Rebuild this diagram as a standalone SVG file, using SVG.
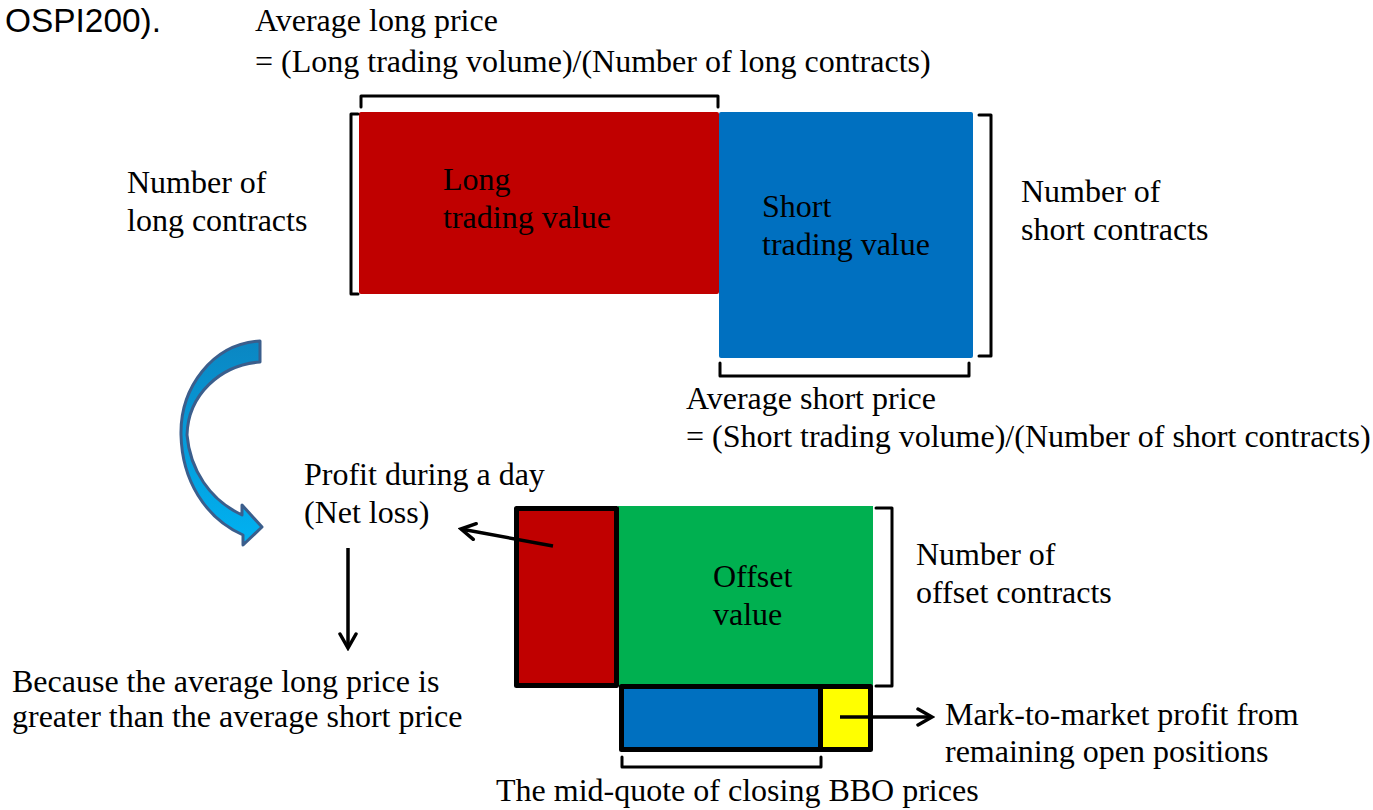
<svg xmlns="http://www.w3.org/2000/svg" width="1373" height="810" viewBox="0 0 1373 810">
<style>
  text { font-family: "Liberation Serif", "Times New Roman", serif; font-size: 32px; fill: #000; }
  .br { fill: none; stroke: #000; stroke-width: 3; stroke-linejoin: round; stroke-linecap: round; }
  .box { stroke: #000; stroke-width: 5; stroke-linejoin: round; }
  .ln { fill: none; stroke: #000; stroke-width: 3.5; }
</style>
<defs>
  <marker id="ah" viewBox="0 0 20 20" refX="17" refY="10" markerWidth="20" markerHeight="20" markerUnits="userSpaceOnUse" orient="auto">
    <path d="M3 2 L17 10 L3 18" fill="none" stroke="#000" stroke-width="3.5" stroke-linecap="round" stroke-linejoin="miter"/>
  </marker>
  <linearGradient id="cg" x1="0" y1="0" x2="0" y2="1">
    <stop offset="0" stop-color="#0b86c2"/>
    <stop offset="1" stop-color="#00b2f2"/>
  </linearGradient>
</defs>
<rect width="1373" height="810" fill="#fff"/>

<text x="161" y="32" text-anchor="end" style="font-family:'Liberation Sans','Open Sans',sans-serif;font-size:33px" textLength="156" lengthAdjust="spacingAndGlyphs">OSPI200).</text>

<g id="top-labels">
  <text x="255" y="31">Average long price</text>
  <text x="255" y="72">= (Long trading volume)/(Number of long contracts)</text>
  <text x="127" y="193">Number of</text>
  <text x="127" y="231">long contracts</text>
  <text x="1021" y="202">Number of</text>
  <text x="1021" y="240">short contracts</text>
  <text x="686" y="409">Average short price</text>
  <text x="686" y="447">= (Short trading volume)/(Number of short contracts)</text>
</g>

<g id="long-value">
  <rect x="359" y="112" width="360" height="182" rx="2" fill="#c00000"/>
  <text x="443" y="190">Long</text>
  <text x="443" y="228">trading value</text>
</g>
<g id="short-value">
  <rect x="719" y="112" width="254" height="246" rx="2" fill="#0070c0"/>
  <text x="762" y="217">Short</text>
  <text x="762" y="255">trading value</text>
</g>

<g id="brackets">
  <path class="br" d="M361 107 V96 H718 V107"/>
  <path class="br" d="M358 114 H351 V294 H358"/>
  <path class="br" d="M979 115 H991 V356 H979"/>
  <path class="br" d="M720 363 V376 H969 V363"/>
  <path class="br" d="M876 508 H892 V686 H876"/>
  <path class="br" d="M622 757 V767 H821 V757"/>
</g>

<g id="curved-arrow">
  <path d="M260 341 C212 344 180 388 181 435 C182 480 205 518 243 535 L243 545 L262 527 L242 505 L242 515 C210 500 190 470 187 435 C188 395 220 365 260 362 Z" fill="url(#cg)" stroke="#3b5e8c" stroke-width="3" stroke-linejoin="round"/>
</g>

<g id="profit">
  <text x="304" y="485">Profit during a day</text>
  <text x="304" y="523">(Net loss)</text>
</g>

<g id="conclusion">
  <text x="12" y="692">Because the average long price is</text>
  <text x="12" y="727">greater than the average short price</text>
</g>

<g id="offset-value">
  <rect x="618" y="506" width="255" height="180" fill="#00b050"/>
  <text x="713" y="587">Offset</text>
  <text x="713" y="625">value</text>
</g>
<g id="net-loss-box">
  <rect class="box" x="516.5" y="508.5" width="100" height="177" fill="#c00000"/>
</g>
<g id="bbo-box">
  <rect class="box" x="621.5" y="686.5" width="199" height="63" fill="#0070c0"/>
</g>
<g id="mtm-box">
  <rect class="box" x="820.5" y="686.5" width="50" height="63" fill="#ffff00"/>
</g>

<g id="labels-bottom">
  <text x="916" y="565">Number of</text>
  <text x="916" y="603">offset contracts</text>
  <text x="945" y="725">Mark-to-market profit from</text>
  <text x="945" y="762">remaining open positions</text>
  <text x="496" y="801">The mid-quote of closing BBO prices</text>
</g>

<g id="connectors">
  <line class="ln" x1="553" y1="546" x2="461" y2="529" marker-end="url(#ah)"/>
  <line class="ln" x1="348" y1="548" x2="348" y2="648" marker-end="url(#ah)"/>
  <line class="ln" x1="840" y1="717" x2="932" y2="717" marker-end="url(#ah)"/>
</g>
</svg>
